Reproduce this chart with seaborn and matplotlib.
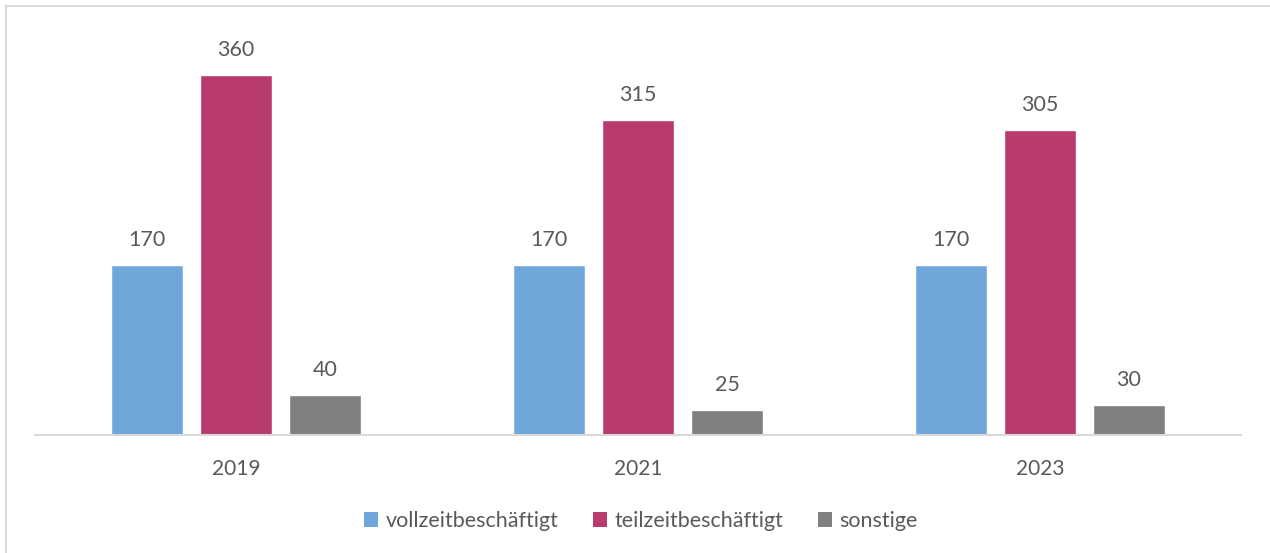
"""
Beschäftigte nach Art der Beschäftigung, 2019-2023
"""
import pandas as pd
import matplotlib.pyplot as plt
import seaborn as sns
from matplotlib.lines import Line2D
from matplotlib.patches import Patch

years = ['2019', '2021', '2023']
groups = ['vollzeitbeschäftigt', 'teilzeitbeschäftigt', 'sonstige']
vollzeit = [170, 170, 170]
teilzeit = [360, 315, 305]
sonstige = [40, 25, 30]
colors = ['#70A7DA', '#B83A6E', '#808080']

data = pd.DataFrame({
    'Jahr': years * 3,
    'Gruppe': [groups[0]] * 3 + [groups[1]] * 3 + [groups[2]] * 3,
    'Anzahl': vollzeit + teilzeit + sonstige,
})

sns.set_style('white')
plt.rcParams['font.family'] = ['Lato', 'DejaVu Sans']
text_col = '#595959'

fig = plt.figure(figsize=(12.7, 5.53), dpi=100)
ax = fig.add_axes([35 / 1270, 118 / 553, 1206 / 1270, 400 / 553])

sns.barplot(data=data, x='Jahr', y='Anzahl', hue='Gruppe', palette=colors,
            width=0.664, gap=0.2, saturation=1, legend=False, ax=ax)

for c in ax.containers:
    ax.bar_label(c, padding=11, fontsize=15.5, color=text_col)

ax.set_xlim(-0.5, 2.5)
ax.set_ylim(0, 400)
ax.set_xlabel('')
ax.set_ylabel('')
ax.set_yticks([])
ax.tick_params(axis='x', length=0, pad=17, labelsize=15, labelcolor=text_col)
for s in ['left', 'right', 'top']:
    ax.spines[s].set_visible(False)
ax.spines['bottom'].set_color('#D9D9D9')
ax.spines['bottom'].set_linewidth(1.5)

handles = [Patch(facecolor=c, edgecolor='none') for c in colors]
fig.legend(handles, groups, loc='center', bbox_to_anchor=(0.5045, 0.058),
           ncol=3, frameon=False, fontsize=15.5, labelcolor=text_col,
           handlelength=0.65, handleheight=0.65, handletextpad=0.35,
           columnspacing=1.6)

# light frame on the left and top edge
fig.add_artist(Line2D([5.5 / 1270, 5.5 / 1270], [0, 1 - 6 / 553],
                      color='#D9D9D9', lw=1.5, transform=fig.transFigure))
fig.add_artist(Line2D([5.5 / 1270, 1], [1 - 6 / 553, 1 - 6 / 553],
                      color='#D9D9D9', lw=1.5, transform=fig.transFigure))

fig.savefig('out.png', dpi=100)
